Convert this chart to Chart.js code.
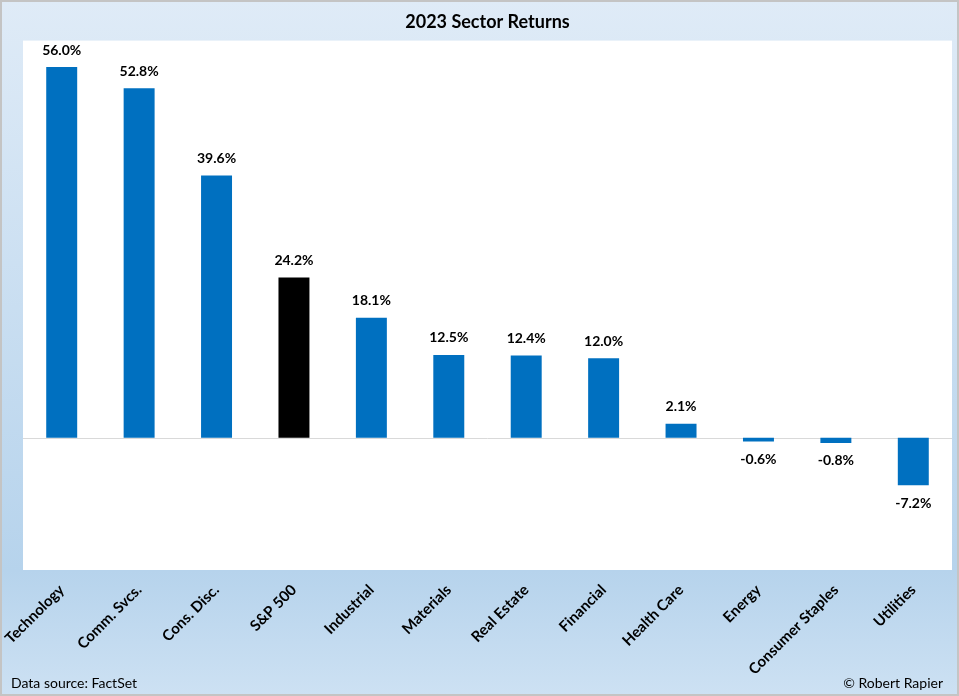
<!DOCTYPE html>
<html lang="en">
<head>
<meta charset="UTF-8">
<title>2023 Sector Returns</title>
<script src="https://cdn.jsdelivr.net/npm/chart.js"></script>
<style>
    body { margin: 0; padding: 0; background: #fff; }
    canvas { display: block; }
</style>
</head>
<body>
<canvas id="chart" width="959" height="696"></canvas>
<script>
    // data
    const sectors = ["Technology", "Comm. Svcs.", "Cons. Disc.", "S&P 500", "Industrial", "Materials",
        "Real Estate", "Financial", "Health Care", "Energy", "Consumer Staples", "Utilities"];
    const returns = [56.0, 52.8, 39.6, 24.2, 18.1, 12.5, 12.4, 12.0, 2.1, -0.6, -0.8, -7.2];
    const barColors = sectors.map(s => s === "S&P 500" ? "#000000" : "#0070C0");

    const FONT = "Lato, 'Open Sans', sans-serif";

    // gradient backdrop, white plot area, zero line, footer text
    const backdrop = {
        id: "backdrop",
        beforeDraw(chart) {
            const ctx = chart.ctx;
            const w = chart.width, h = chart.height;
            const a = chart.chartArea;
            const g = ctx.createLinearGradient(0, 0, 0, h);
            g.addColorStop(0, "#dfebf7");
            g.addColorStop(0.82, "#b6d3ec");
            g.addColorStop(1, "#cde1f3");
            ctx.save();
            ctx.fillStyle = g;
            ctx.fillRect(0, 0, w, h);
            ctx.fillStyle = "#ffffff";
            ctx.fillRect(a.left, a.top, a.right - a.left, a.bottom - a.top);
            const y0 = chart.scales.y.getPixelForValue(0);
            ctx.strokeStyle = "#d9d9d9";
            ctx.lineWidth = 1;
            ctx.beginPath();
            ctx.moveTo(a.left, Math.round(y0) + 0.5);
            ctx.lineTo(a.right, Math.round(y0) + 0.5);
            ctx.stroke();
            ctx.strokeStyle = "#c4c4c4";
            ctx.lineWidth = 2;
            ctx.strokeRect(1, 1, w - 2, h - 2);
            ctx.restore();
        },
        afterDraw(chart) {
            const ctx = chart.ctx;
            ctx.save();
            ctx.fillStyle = "#000";
            ctx.font = "14px " + FONT;
            ctx.textBaseline = "alphabetic";
            ctx.textAlign = "left";
            ctx.fillText("Data source: FactSet", 11, 688);
            ctx.textAlign = "right";
            ctx.fillText("\u00A9 Robert Rapier", 943, 688);
            ctx.restore();
        }
    };

    // value labels above / below the bars
    const valueLabels = {
        id: "valueLabels",
        afterDatasetsDraw(chart) {
            const ctx = chart.ctx;
            const meta = chart.getDatasetMeta(0);
            ctx.save();
            ctx.fillStyle = "#000";
            ctx.font = "bold 14px " + FONT;
            ctx.textAlign = "center";
            ctx.textBaseline = "middle";
            meta.data.forEach((bar, i) => {
                const v = returns[i];
                const y = v >= 0 ? bar.y - 17 : bar.y + 18;
                ctx.fillText(v.toFixed(1) + "%", bar.x, y);
            });
            ctx.restore();
        }
    };

    new Chart(document.getElementById("chart"), {
        type: "bar",
        data: {
            labels: sectors,
            datasets: [{
                data: returns,
                backgroundColor: barColors,
                barPercentage: 0.4,
                categoryPercentage: 1.0
            }]
        },
        options: {
            responsive: false,
            animation: false,
            layout: { padding: { left: 23, right: 7, top: 0, bottom: 0 } },
            plugins: {
                legend: { display: false },
                tooltip: { enabled: false },
                title: {
                    display: true,
                    text: "2023 Sector Returns",
                    color: "#000",
                    font: { family: FONT, size: 18, weight: "bold" },
                    padding: { top: 11, bottom: 8 }
                }
            },
            scales: {
                x: {
                    grid: { display: false },
                    border: { display: false },
                    ticks: {
                        color: "#000",
                        font: { family: FONT, size: 15, weight: "bold" },
                        maxRotation: 45,
                        minRotation: 45,
                        autoSkip: false,
                        padding: 3
                    },
                    afterFit(scale) { scale.height = 126; }
                },
                y: {
                    display: false,
                    min: -20,
                    max: 60
                }
            }
        },
        plugins: [backdrop, valueLabels]
    });
</script>
</body>
</html>
